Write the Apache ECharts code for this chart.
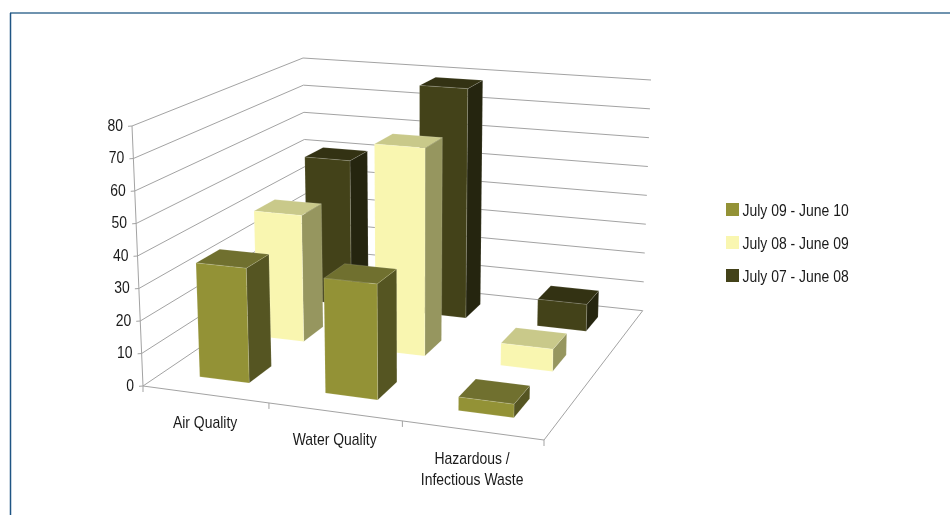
<!DOCTYPE html>
<html>
<head>
<meta charset="utf-8">
<style>html,body{margin:0;padding:0;background:#fff}#chart{width:950px;height:515px}</style>
<script src="https://cdn.jsdelivr.net/npm/echarts@6/dist/echarts.min.js"></script>
</head>
<body>
<div id="chart"></div>
<script>
// Chart content
const categories = ['Air Quality', 'Water Quality', 'Hazardous /\nInfectious Waste'];
const periods = ['July 09 - June 10', 'July 08 - June 09', 'July 07 - June 08'];
const values0910 = [35.5, 35, 4];
const values0809 = [41.5, 67, 7];
const values0708 = [50.5, 78.5, 9];
const yTicks = [0, 10, 20, 30, 40, 50, 60, 70, 80];
const yMax = 80;

// Face colours per period: front, top, side
const frontColors = ['#939236', '#f9f6b0', '#434219'];
const topColors = ['#70702f', '#c9c98a', '#333213'];
const sideColors = ['#555522', '#96965f', '#25250f'];

// Corners of the 3D box on screen: front-left, front-right, back-right, back-left
const floorQuad = [[143, 386], [544, 440], [642.7, 310.7], [306.6, 275.3]];
const ceilQuad = [[132, 126], [550, 160], [651, 80], [303, 58]];

const barWidthFrac = 0.4;
const barCenterU = 0.497;
const barDepthFrac = 0.39;
const barCenterV = 0.515;

// Text is Liberation Sans squeezed to a narrow width
const FONT = '17px "Liberation Sans", sans-serif';
const TEXT_SQUEEZE = 0.82;
const INK = '#1a1a1a';

// Unit square to quad perspective mapping
function quadMap(q) {
  const [x0, y0] = q[0], [x1, y1] = q[1], [x2, y2] = q[2], [x3, y3] = q[3];
  const dx1 = x1 - x2, dx2 = x3 - x2, dx3 = x0 - x1 + x2 - x3;
  const dy1 = y1 - y2, dy2 = y3 - y2, dy3 = y0 - y1 + y2 - y3;
  const det = dx1 * dy2 - dx2 * dy1;
  const g = (dx3 * dy2 - dx2 * dy3) / det;
  const h = (dx1 * dy3 - dx3 * dy1) / det;
  const a = x1 - x0 + g * x1, b = x3 - x0 + h * x3;
  const d = y1 - y0 + g * y1, e = y3 - y0 + h * y3;
  return (u, v) => {
    const w = g * u + h * v + 1;
    return [(a * u + b * v + x0) / w, (d * u + e * v + y0) / w];
  };
}
const floorMap = quadMap(floorQuad);
const ceilMap = quadMap(ceilQuad);

// u runs along categories, v runs front to back, val is the axis value
function project(u, v, val) {
  const p = floorMap(u, v), q = ceilMap(u, v), t = val / yMax;
  return [p[0] + (q[0] - p[0]) * t, p[1] + (q[1] - p[1]) * t];
}

function squeezedText(x, y, text, align, verticalAlign) {
  return {
    type: 'text', x, y, scaleX: TEXT_SQUEEZE,
    style: { x: 0, y: 0, text, align, verticalAlign, font: FONT, lineHeight: 21, fill: INK }
  };
}

const lineStyle = { stroke: '#a3a3a3', lineWidth: 1, fill: null };

function renderTick(params, api) {
  const val = api.value(0);
  const front = project(0, 0, val), back = project(0, 1, val), right = project(1, 1, val);
  return {
    type: 'group',
    children: [
      { type: 'polyline', shape: { points: [[front[0] - 4, front[1] + 0.3], front, back, right] }, style: lineStyle },
      squeezedText(front[0] - 9, front[1], String(val), 'right', 'middle')
    ]
  };
}

function renderFrame() {
  const children = [];
  const a = project(0, 0, 0), b = project(1, 0, 0), c = project(1, 1, 0), top = project(0, 0, yMax);
  children.push({ type: 'polyline', shape: { points: [top, a, b, c] }, style: lineStyle });
  for (let i = 0; i <= categories.length; i++) {
    const p = project(i / categories.length, 0, 0);
    children.push({ type: 'line', shape: { x1: p[0], y1: p[1], x2: p[0], y2: p[1] + 6 }, style: lineStyle });
  }
  categories.forEach((name, i) => {
    const p = project((i + 0.5) / categories.length, 0, 0);
    children.push(squeezedText(p[0], p[1] + 18, name, 'center', 'top'));
  });
  return { type: 'group', children };
}

function barRenderer(depthIndex) {
  return function (params, api) {
    const cat = api.value(0), val = api.value(1);
    const n = categories.length, m = periods.length;
    const u0 = (cat + barCenterU - barWidthFrac / 2) / n, u1 = (cat + barCenterU + barWidthFrac / 2) / n;
    const v0 = (depthIndex + barCenterV - barDepthFrac / 2) / m, v1 = (depthIndex + barCenterV + barDepthFrac / 2) / m;
    const edge = 'rgba(255,255,255,0.22)';
    const face = (pts, fill) => ({ type: 'polygon', shape: { points: pts }, style: { fill, stroke: edge, lineWidth: 0.6 } });
    return {
      type: 'group',
      children: [
        face([project(u1, v0, 0), project(u1, v1, 0), project(u1, v1, val), project(u1, v0, val)], sideColors[depthIndex]),
        face([project(u0, v0, val), project(u1, v0, val), project(u1, v1, val), project(u0, v1, val)], topColors[depthIndex]),
        face([project(u0, v0, 0), project(u1, v0, 0), project(u1, v0, val), project(u0, v0, val)], frontColors[depthIndex])
      ]
    };
  };
}

const seriesValues = [values0910, values0809, values0708];
const barSeries = periods.map((name, k) => ({
  type: 'custom',
  name,
  coordinateSystem: 'none',
  silent: true,
  z: 10 - k,
  itemStyle: { color: frontColors[k] },
  renderItem: barRenderer(k),
  data: seriesValues[k].map((v, i) => [i, v])
}));

// Legend entries: colour swatch plus squeezed label
const legendGraphics = [];
periods.forEach((name, k) => {
  const y = 203 + k * 33;
  legendGraphics.push({ type: 'rect', shape: { x: 726, y, width: 13, height: 13 }, style: { fill: frontColors[k] } });
  legendGraphics.push(squeezedText(742.5, y + 8.5, name, 'left', 'middle'));
});

const chart = echarts.init(document.getElementById('chart'), null, { renderer: 'canvas' });
chart.setOption({
  animation: false,
  backgroundColor: '#fff',
  graphic: legendGraphics.concat([
    { type: 'line', z: 100, shape: { x1: 10, y1: 13, x2: 950, y2: 13 }, style: { stroke: '#3f6f94', lineWidth: 1.5 } },
    { type: 'line', z: 100, shape: { x1: 10.5, y1: 13, x2: 10.5, y2: 515 }, style: { stroke: '#1f5584', lineWidth: 1.5 } }
  ]),
  series: [
    { type: 'custom', name: 'ticks', coordinateSystem: 'none', silent: true, z: 1, renderItem: renderTick, data: yTicks.map(v => [v]) },
    { type: 'custom', name: 'frame', coordinateSystem: 'none', silent: true, z: 2, renderItem: renderFrame, data: [[0]] }
  ].concat(barSeries)
});
</script>
</body>
</html>
